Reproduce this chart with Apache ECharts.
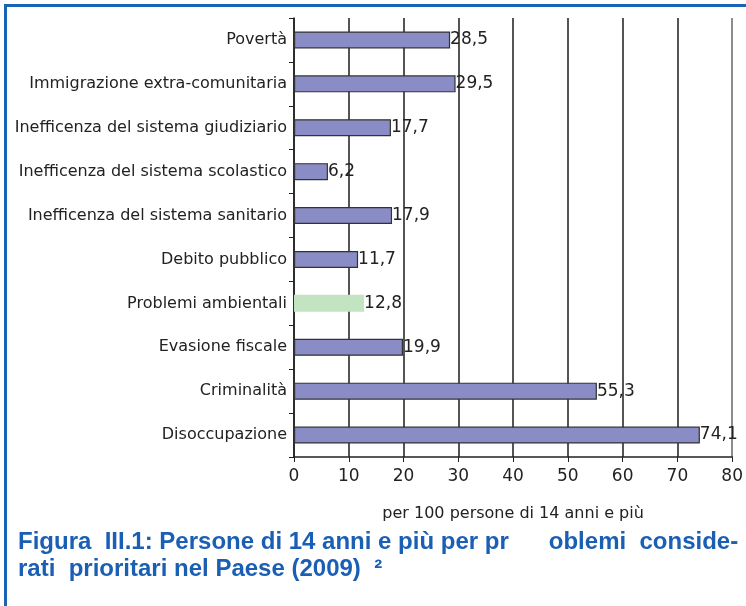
<!DOCTYPE html>
<html><head><meta charset="utf-8">
<script src="https://cdn.jsdelivr.net/npm/echarts@6/dist/echarts.min.js"></script>
<style>
html,body{margin:0;padding:0;background:#fff;}
#frame{position:absolute;left:4px;top:4px;width:742px;height:602px;border-left:3px solid #1a64b4;border-top:3px solid #1a64b4;box-sizing:border-box;}
#chart{position:absolute;left:0;top:0;width:746px;height:606px;}
</style></head>
<body>
<div id="frame"></div>
<div id="chart"></div>
<script>
const categories = ["Povertà","Immigrazione extra-comunitaria","Inefficenza del sistema giudiziario","Inefficenza del sistema scolastico","Inefficenza del sistema sanitario","Debito pubblico","Problemi ambientali","Evasione fiscale","Criminalità","Disoccupazione"];
const values = [28.5,29.5,17.7,6.2,17.9,11.7,12.8,19.9,55.3,74.1];
const highlighted = ["Problemi ambientali"];
const xTicks = [0,10,20,30,40,50,60,70,80];
const axisTitle = "per 100 persone di 14 anni e più";
const captionLine1 = "Figura  III.1: Persone di 14 anni e più per pr      oblemi  conside-";
const captionLine2 = "rati  prioritari nel Paese (2009)  ²";

const chart = echarts.init(document.getElementById('chart'), null, {renderer:'canvas'});
const font = "'DejaVu Sans', Verdana, sans-serif";
const data = categories.map((c,i)=>{
  const hl = highlighted.includes(c);
  return {value: values[i], itemStyle: hl ? {color:'#c3e4c1', borderWidth:0} : {color:'#8a8cc5', borderColor:'#333', borderWidth:1.2}};
});
const gridColors = xTicks.map((t,i)=> i === xTicks.length-1 ? '#707070' : '#2a2a2a');
chart.setOption({
  animation:false,
  grid:{left:294, right:8, top:18, bottom:149, containLabel:false},
  xAxis:{type:'value', min:xTicks[0], max:xTicks[xTicks.length-1], interval:10,
    name:axisTitle, nameLocation:'middle', nameGap:49,
    nameTextStyle:{color:'#222', fontSize:16, fontFamily:font},
    axisLine:{show:true, lineStyle:{color:'#222', width:1.5}},
    axisTick:{show:true, length:5, lineStyle:{color:'#222'}},
    axisLabel:{color:'#222', fontSize:17, fontFamily:font, margin:11},
    splitLine:{show:true, lineStyle:{color:gridColors, width:1.6}}},
  yAxis:{type:'category', data:categories, inverse:true,
    axisLine:{show:true, lineStyle:{color:'#222', width:1.5}},
    axisTick:{show:true, length:5, lineStyle:{color:'#222'}},
    axisLabel:{color:'#222', fontSize:16, fontFamily:font, margin:7}},
  series:[{type:'bar', data:data, barWidth:17,
    label:{show:true, position:'right', distance:0, color:'#222', fontSize:17, fontFamily:font,
      formatter:p=>String(p.value).replace('.',',')}}],
  graphic:[
    {type:'text', left:18, top:530, style:{text:captionLine1, fill:'#1a5fb4', font:"bold 24px 'Liberation Sans Narrow', 'Liberation Sans', sans-serif"}},
    {type:'text', left:18, top:557, style:{text:captionLine2, fill:'#1a5fb4', font:"bold 24px 'Liberation Sans Narrow', 'Liberation Sans', sans-serif"}}
  ]
});
</script>
</body></html>
